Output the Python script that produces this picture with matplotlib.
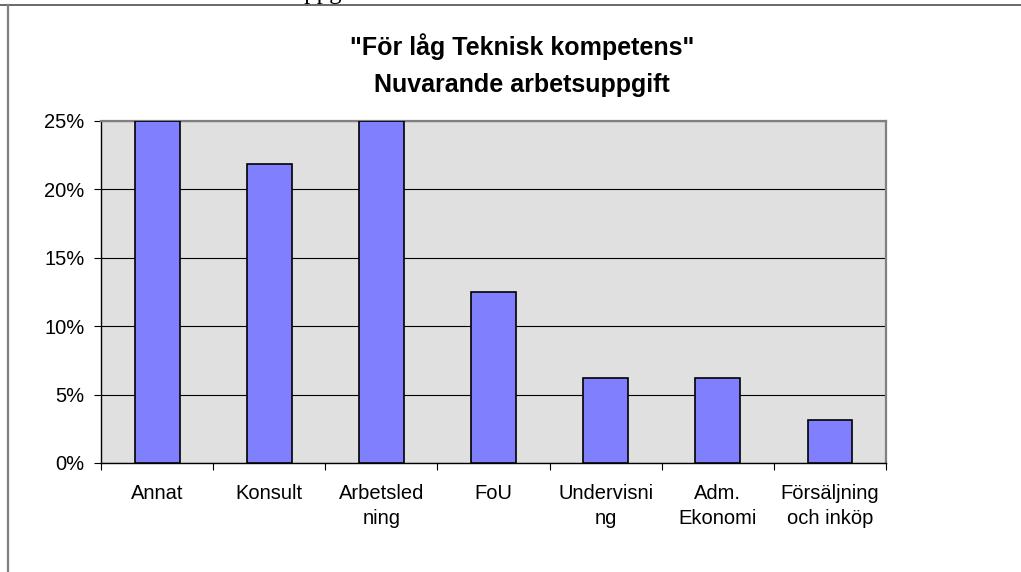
import matplotlib.pyplot as plt
from matplotlib.lines import Line2D
from matplotlib.ticker import FuncFormatter, MultipleLocator

# share of answers per current work task (n = 32)
kategorier = ['Annat', 'Konsult', 'Arbetsled\nning', 'FoU', 'Undervisni\nng',
              'Adm.\nEkonomi', 'Försäljning\noch inköp']
andelar = [0.25, 0.21875, 0.25, 0.125, 0.0625, 0.0625, 0.03125]

plt.rcParams['font.family'] = ['Liberation Sans', 'DejaVu Sans']

fig = plt.figure(figsize=(10.21, 5.72), dpi=100)
ax = fig.add_axes([101 / 1021, 1 - 463 / 572, 785 / 1021, 342 / 572])
ax.set_facecolor('#e0e0e0')

x = list(range(len(kategorier)))
ax.bar(x, andelar, width=0.4, color='#8080ff', edgecolor='black',
       linewidth=1.2, zorder=3)

ax.set_xlim(-0.5, len(kategorier) - 0.5)
ax.set_ylim(0, 0.25)
ax.yaxis.set_major_locator(MultipleLocator(0.05))
ax.yaxis.set_major_formatter(FuncFormatter(lambda v, p: f'{v * 100:.0f}%'))
ax.grid(axis='y', color='black', linewidth=0.8, zorder=1)

# category labels sit between boundary ticks
ax.set_xticks([i + 0.5 for i in range(-1, len(kategorier))])
ax.set_xticklabels([])
ax.set_xticks(x, minor=True)
ax.set_xticklabels(kategorier, minor=True, fontsize=14.5, linespacing=1.4,
                   va='top')
ax.tick_params(axis='x', which='minor', length=0, pad=15)
ax.tick_params(axis='x', which='major', length=5, direction='out',
               color='black')
ax.tick_params(axis='y', length=5, direction='out', labelsize=14.5, pad=7)

for side in ('top', 'right'):
    ax.spines[side].set_color('#808080')
    ax.spines[side].set_linewidth(1.6)
for side in ('left', 'bottom'):
    ax.spines[side].set_color('black')
    ax.spines[side].set_linewidth(1.0)

fig.text(522 / 1021, 1 - 47 / 572, '"För låg Teknisk kompetens"',
         ha='center', va='center', fontsize=18, fontweight='bold')
fig.text(522 / 1021, 1 - 85 / 572, 'Nuvarande arbetsuppgift',
         ha='center', va='center', fontsize=18, fontweight='bold')

# page frame and the clipped heading text above it
fig.add_artist(Line2D([0, 1], [1 - 5 / 572, 1 - 5 / 572],
                      color='#505050', linewidth=1.2))
fig.add_artist(Line2D([7.5 / 1021, 7.5 / 1021], [0, 1 - 5 / 572],
                      color='#808080', linewidth=1.6))
fig.text(232 / 1021, 1 + 1 / 572, 'arbetsuppgift', ha='left',
         va='baseline', fontsize=18, family='Liberation Serif')

fig.savefig('out.png', dpi=100)
